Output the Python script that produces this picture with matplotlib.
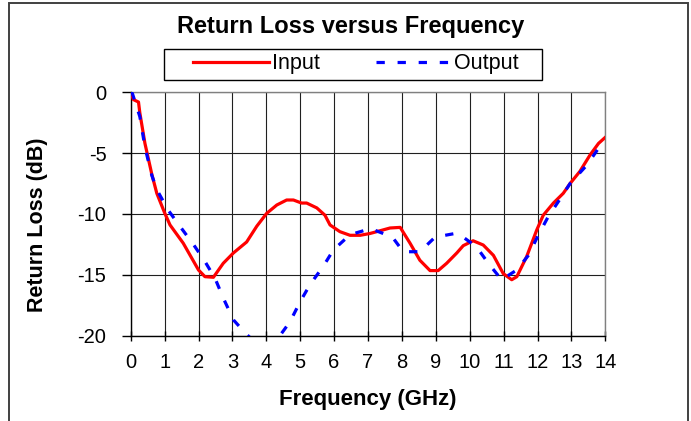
import matplotlib
matplotlib.use("Agg")
import matplotlib.pyplot as plt
from matplotlib.patches import Rectangle

plt.rcParams['font.family'] = ['Liberation Sans', 'DejaVu Sans']
plt.rcParams['axes.unicode_minus'] = False

# Input return loss (red)
freq_in = [0.0, 0.08, 0.23, 0.27, 0.42, 0.62, 0.77, 1.0, 1.16, 1.55, 2.0, 2.19, 2.44,
           2.73, 3.03, 3.42, 3.72, 4.01, 4.31, 4.6, 4.8, 5.04, 5.19, 5.49, 5.73, 5.88,
           6.17, 6.47, 6.77, 7.06, 7.26, 7.65, 7.95, 8.24, 8.53, 8.83, 9.07, 9.32, 9.62,
           9.81, 10.1, 10.4, 10.7, 10.99, 11.24, 11.39, 11.68, 11.98, 12.17, 12.47,
           12.76, 12.96, 13.25, 13.55, 13.8, 14.0]
rl_in = [0.0, -0.6, -0.8, -1.7, -4.2, -6.7, -8.3, -9.9, -10.9, -12.4, -14.6, -15.15, -15.2,
         -14.05, -13.2, -12.3, -11.0, -9.95, -9.26, -8.85, -8.85, -9.1, -9.1, -9.5, -10.1,
         -10.9, -11.45, -11.75, -11.75, -11.6, -11.45, -11.15, -11.1, -12.4, -13.8, -14.65,
         -14.65, -14.05, -13.2, -12.6, -12.2, -12.55, -13.4, -14.9, -15.4, -15.15, -13.5,
         -11.3, -10.1, -9.1, -8.3, -7.5, -6.5, -5.15, -4.2, -3.7]

# Output return loss (blue dashed)
freq_out = [0.0, 0.05, 0.27, 0.42, 0.62, 0.77, 1.11, 1.45, 1.85, 2.19, 2.49, 2.73, 3.03,
            3.42, 3.7, 4.0, 4.3, 4.4, 4.7, 5.0, 5.29, 5.68, 5.98, 6.47, 7.08, 7.72, 8.04,
            8.53, 8.98, 9.57, 9.71, 10.2, 10.55, 10.94, 11.39, 11.73, 12.03, 12.32, 12.61,
            12.96, 13.45, 13.8, 13.9]
rl_out = [0.0, -0.1, -2.0, -4.5, -6.8, -8.0, -9.7, -11.0, -12.5, -13.9, -15.3, -16.9, -18.7,
          -19.9, -20.6, -20.8, -20.4, -20.0, -18.85, -17.2, -15.8, -14.3, -12.95, -11.7,
          -11.2, -11.9, -13.1, -13.1, -11.9, -11.6, -11.7, -12.7, -14.05, -15.4, -14.6,
          -13.4, -11.7, -10.2, -9.0, -7.5, -6.0, -4.6, -4.3]

x_ticks = list(range(0, 15))
y_ticks = [0, -5, -10, -15, -20]

W, H = 691, 421
fig = plt.figure(figsize=(W / 100, H / 100), dpi=100)
ax = fig.add_axes([130.7 / W, 1 - 335.7 / H, 474.6 / W, 243.4 / H])

ax.plot(freq_in, rl_in, color='#ff0000', lw=2.3, label='Input', zorder=3)
ax.plot(freq_out, rl_out, color='#0000ff', lw=2.3, dashes=(2.6, 4.0), label='Output', zorder=3)

ax.set_xlim(0, 14)
ax.set_ylim(-20, 0)
ax.set_xticks(x_ticks)
ax.set_yticks(y_ticks)
ax.grid(True, color='#202020', lw=0.8)

for s in ['left', 'bottom']:
    ax.spines[s].set_color('black')
    ax.spines[s].set_linewidth(1.0)
for s in ['top', 'right']:
    ax.spines[s].set_color('#808080')
    ax.spines[s].set_linewidth(1.0)

ax.tick_params(axis='x', direction='inout', length=7.2, width=1.0, pad=9, labelsize=14.5)
ax.tick_params(axis='y', direction='out', length=6.5, width=1.0, pad=11, labelsize=14.5)

ax.set_xlabel('Frequency (GHz)', fontsize=16, fontweight='bold', va='center')
ax.xaxis.set_label_coords(368 / W, 1 - 399 / H, transform=fig.transFigure)
ax.set_ylabel('Return Loss (dB)', fontsize=15.5, fontweight='bold', va='center')
ax.yaxis.set_label_coords(38 / W, 1 - 225 / H, transform=fig.transFigure)

fig.text(351 / W, 1 - 33 / H, 'Return Loss versus Frequency', fontsize=17,
         fontweight='bold', ha='center', va='baseline')

leg = fig.legend(loc='center', bbox_to_anchor=(356 / W, 1 - 64 / H), ncol=2,
                 frameon=False, fontsize=15.5, handlelength=3.5, handletextpad=0.15,
                 columnspacing=2.6, borderpad=0.1)

# legend box and outer chart frame
fig.patches.append(Rectangle((164 / W, 1 - 80 / H), 378 / W, 31 / H, transform=fig.transFigure,
                             fill=False, edgecolor='black', lw=1.0))
fig.patches.append(Rectangle((9 / W, -0.1), 679 / W, 1.1 - 3.5 / H, transform=fig.transFigure,
                             fill=False, edgecolor='#404040', lw=1.4))

fig.savefig('out.png', dpi=100)
